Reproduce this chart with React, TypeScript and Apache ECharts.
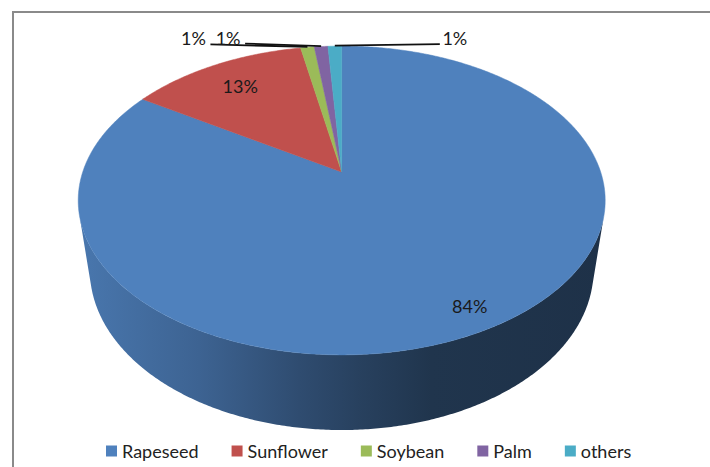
import React, { useEffect, useRef } from "react";
import * as echarts from "echarts";

// ---- data ----
const CATEGORIES = ["Rapeseed", "Sunflower", "Soybean", "Palm", "others"];
const SHARES = [84, 13, 1, 1, 1];
const COLORS = ["#4F81BD", "#C0504D", "#9BBB59", "#8064A2", "#4BACC6"];

// ---- layout (3D pie projection) ----
const CX = 341.7;
const CY = 172;
const FOCAL = 1148;
const DIST = 4.433;
const SIN_T = 0.576;
const COS_T = Math.sqrt(1 - SIN_T * SIN_T);
const THICK = 0.344;
const INSIDE_LABEL_R = [0.88, 0.78, 0, 0, 0];
const OUTSIDE_LABEL_SHIFT: (number[] | null)[] = [null, null, [-114, -9], [-93, -9], [120, -8]];
const FONT = "Lato, 'Liberation Sans', sans-serif";
const FONT_SIZE = 18;

const TOTAL = SHARES.reduce((a, b) => a + b, 0);
const STARTS: number[] = [];
SHARES.reduce((acc, v, i) => {
  STARTS[i] = acc;
  return acc + v;
}, 0);

function proj(deg: number, r: number, z: number): number[] {
  const t = (deg * Math.PI) / 180;
  const u = r * Math.sin(t);
  const v = r * Math.cos(t);
  const depth = DIST + v * COS_T - z * SIN_T;
  const ycam = v * SIN_T + z * COS_T;
  return [CX + (FOCAL * u) / depth, CY - (FOCAL * ycam) / depth];
}

function rim(a: number, b: number, z: number): number[][] {
  const pts: number[][] = [];
  const n = Math.max(2, Math.ceil(Math.abs(b - a) / 0.5));
  for (let i = 0; i <= n; i++) pts.push(proj(a + ((b - a) * i) / n, 1, z));
  return pts;
}

function shade(hex: string, f: number): string {
  const n = parseInt(hex.slice(1), 16);
  const r = Math.round(((n >> 16) & 255) * f);
  const g = Math.round(((n >> 8) & 255) * f);
  const b = Math.round((n & 255) * f);
  return `rgb(${r},${g},${b})`;
}

export default function App() {
  const ref = useRef<HTMLDivElement>(null);
  useEffect(() => {
    if (!ref.current) return;
    const chart = echarts.init(ref.current, null, { renderer: "svg" });
    const visStart = (Math.acos(-1 / (DIST * COS_T)) * 180) / Math.PI;
    const leftX = CX - 264;
    const rightX = CX + 264;

    const series = CATEGORIES.map((name, idx) => ({
      type: "custom",
      name,
      coordinateSystem: "none",
      itemStyle: { color: COLORS[idx] },
      data: [[STARTS[idx], STARTS[idx] + SHARES[idx], SHARES[idx]]],
      renderItem: (params: any, api: any) => {
        const i = params.seriesIndex;
        const color = COLORS[i];
        const a0 = (api.value(0) / TOTAL) * 360;
        const a1 = (api.value(1) / TOTAL) * 360;
        const val = api.value(2);
        const children: any[] = [];
        // side
        const s0 = Math.max(a0, visStart);
        const s1 = Math.min(a1, 360 - visStart);
        if (s1 > s0) {
          const pts = rim(s0, s1, 0).concat(rim(s1, s0, -THICK));
          const grad = new echarts.graphic.LinearGradient(
            leftX,
            0,
            rightX,
            0,
            [
              { offset: 0, color: shade(color, 0.92) },
              { offset: 0.23, color: shade(color, 0.77) },
              { offset: 0.42, color: shade(color, 0.59) },
              { offset: 0.53, color: shade(color, 0.5) },
              { offset: 0.67, color: shade(color, 0.41) },
              { offset: 1, color: shade(color, 0.38) },
            ],
            true
          );
          children.push({
            type: "polygon",
            shape: { points: pts },
            style: { fill: grad, stroke: null },
            z2: 1,
          });
        }
        // top face
        const top = [proj(0, 0, 0)].concat(rim(a0, a1, 0));
        children.push({
          type: "polygon",
          shape: { points: top },
          style: { fill: color, stroke: color, lineWidth: 0.5 },
          z2: 10,
        });
        // label
        const text = Math.round((val / TOTAL) * 100) + "%";
        const mid = (a0 + a1) / 2;
        const shift = OUTSIDE_LABEL_SHIFT[i];
        const textStyle = {
          text,
          fill: "#1a1a1a",
          font: `${FONT_SIZE}px ${FONT}`,
          align: "center",
          verticalAlign: "middle",
        };
        if (!shift) {
          const p = proj(mid, INSIDE_LABEL_R[i], 0);
          children.push({ type: "text", x: p[0], y: p[1], style: textStyle, z2: 30 });
        } else {
          const p = proj(mid, 1, 0);
          const lx = p[0] + shift[0];
          const ly = p[1] + shift[1];
          const half = 12;
          const ex = shift[0] < 0 ? lx + half + 5 : lx - half - 3;
          children.push({
            type: "line",
            shape: { x1: p[0], y1: p[1] - 0.5, x2: ex, y2: ly + 6 },
            style: { stroke: "#111", lineWidth: 1.8 },
            z2: 25,
          });
          children.push({ type: "text", x: lx, y: ly, style: textStyle, z2: 30 });
        }
        return { type: "group", children };
      },
    }));

    chart.setOption({
      animation: false,
      backgroundColor: "#ffffff",
      legend: {
        left: 106,
        top: 442,
        padding: 0,
        icon: "rect",
        itemWidth: 11,
        itemHeight: 11,
        itemGap: 33,
        selectedMode: false,
        textStyle: { fontFamily: FONT, fontSize: FONT_SIZE, color: "#222" },
        data: CATEGORIES.map((n, i) => ({ name: n, itemStyle: { color: COLORS[i] } })),
      },
      graphic: [
        {
          type: "polyline",
          shape: { points: [[13, 467], [13, 12], [710, 12]] },
          style: { stroke: "#8a8a8a", lineWidth: 2, fill: null },
          silent: true,
        },
      ],
      series,
    } as any);
    return () => chart.dispose();
  }, []);
  return (
    <div
      ref={ref}
      style={{ position: "absolute", left: 0, top: 0, width: 710, height: 467, background: "#fff" }}
    />
  );
}
